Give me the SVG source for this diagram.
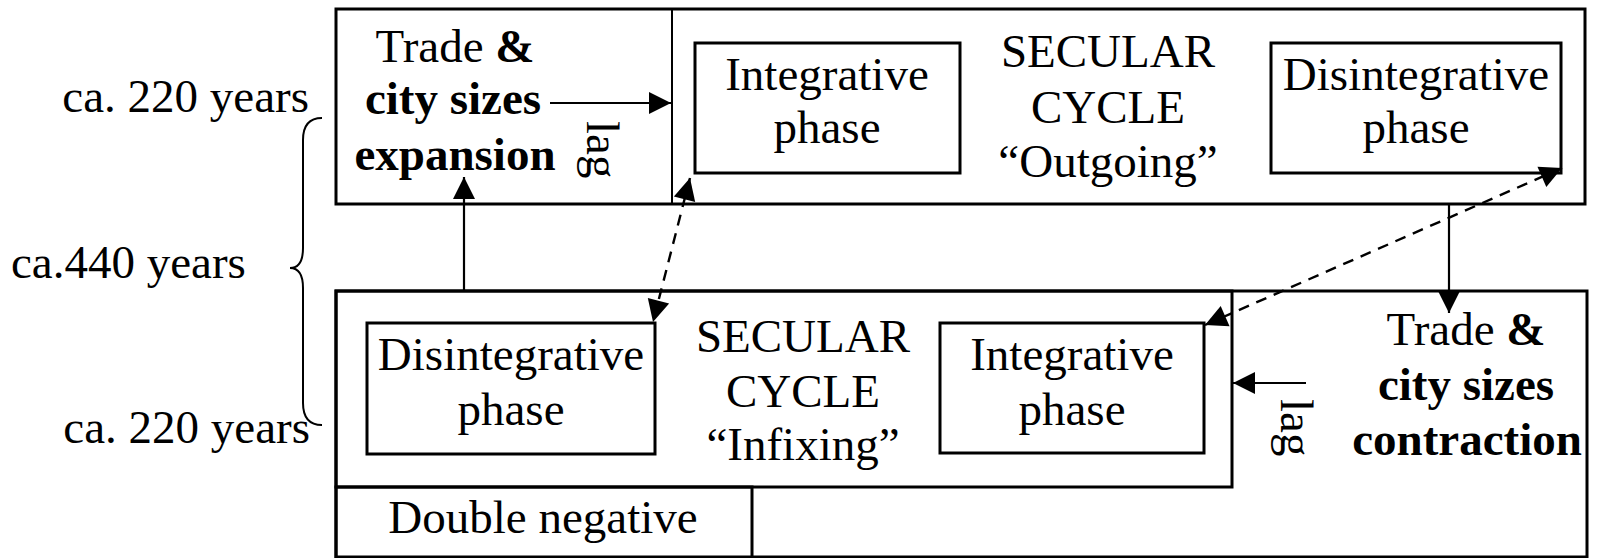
<svg xmlns="http://www.w3.org/2000/svg" width="1598" height="558" viewBox="0 0 1598 558">
  <style>
    .box { fill: none; stroke: #000; stroke-width: 3; }
    .thin { fill: none; stroke: #000; stroke-width: 2; }
    .t { font-family: "Liberation Serif", "Times New Roman", serif; font-size: 47px; fill: #000; }
    .c { text-anchor: middle; }
    .b { font-weight: bold; }
    .arrow { stroke: #000; stroke-width: 2.2; fill: none; marker-end: url(#ah); }
    .dash { stroke: #000; stroke-width: 2.4; fill: none; stroke-dasharray: 11 8; marker-start: url(#ah); marker-end: url(#ah); }
  </style>
  <defs>
    <marker id="ah" markerUnits="userSpaceOnUse" markerWidth="24" markerHeight="24" viewBox="0 0 24 24" refX="23" refY="12" orient="auto-start-reverse">
      <path d="M1,1 L23,12 L1,23 Z" fill="#000"/>
    </marker>
  </defs>
  <rect width="1598" height="558" fill="#fff"/>

  <g id="labels-left">
    <text class="t" x="309" y="112" text-anchor="end">ca. 220 years</text>
    <text class="t" x="11" y="278">ca.440 years</text>
    <text class="t" x="310" y="443" text-anchor="end">ca. 220 years</text>
    <path class="thin" d="M322,118 Q303,118 303,140 L303,248 Q303,268 290,268 Q303,268 303,288 L303,403 Q303,425 322,425"/>
  </g>

  <g id="top-cycle">
    <rect class="box" x="336" y="9" width="1249" height="195"/>
    <line class="thin" x1="672" y1="9" x2="672" y2="204"/>
  </g>

  <g id="trade-expansion">
    <text class="t c" x="455" y="62">Trade <tspan class="b">&amp;</tspan></text>
    <text class="t c b" x="453" y="114">city sizes</text>
    <text class="t c b" x="455" y="170">expansion</text>
    <text class="t" transform="translate(587,121) rotate(90)">lag</text>
  </g>

  <g id="top-integrative">
    <rect class="box" x="695" y="43" width="265" height="130"/>
    <text class="t c" x="827" y="90">Integrative</text>
    <text class="t c" x="827" y="143">phase</text>
  </g>

  <g id="top-title">
    <text class="t c" x="1108" y="67">SECULAR</text>
    <text class="t c" x="1108" y="123">CYCLE</text>
    <text class="t c" x="1108" y="177">“Outgoing”</text>
  </g>

  <g id="top-disintegrative">
    <rect class="box" x="1271" y="43" width="290" height="130"/>
    <text class="t c" x="1416" y="90">Disintegrative</text>
    <text class="t c" x="1416" y="143">phase</text>
  </g>

  <g id="bottom-outer">
    <rect class="box" x="336" y="291" width="1251" height="266"/>
  </g>

  <g id="bottom-cycle">
    <rect class="box" x="336" y="291" width="896" height="196"/>
    <text class="t c" x="803" y="352">SECULAR</text>
    <text class="t c" x="803" y="407">CYCLE</text>
    <text class="t c" x="803" y="460">“Infixing”</text>
  </g>

  <g id="bottom-disintegrative">
    <rect class="box" x="367" y="323" width="288" height="131"/>
    <text class="t c" x="511" y="370">Disintegrative</text>
    <text class="t c" x="511" y="425">phase</text>
  </g>

  <g id="bottom-integrative">
    <rect class="box" x="940" y="323" width="264" height="130"/>
    <text class="t c" x="1072" y="370">Integrative</text>
    <text class="t c" x="1072" y="425">phase</text>
  </g>

  <g id="trade-contraction">
    <text class="t c" x="1466" y="345">Trade <tspan class="b">&amp;</tspan></text>
    <text class="t c b" x="1466" y="400">city sizes</text>
    <text class="t c b" x="1467" y="455">contraction</text>
    <text class="t" transform="translate(1281,399) rotate(90)">lag</text>
  </g>

  <g id="double-negative">
    <rect class="box" x="336" y="487" width="416" height="72"/>
    <text class="t c" x="543" y="533">Double negative</text>
  </g>

  <g id="connectors">
    <line class="arrow" x1="550" y1="103" x2="671" y2="103"/>
    <line class="arrow" x1="464" y1="291" x2="464" y2="177"/>
    <line class="arrow" x1="1449" y1="204" x2="1449" y2="313"/>
    <line class="arrow" x1="1306" y1="383" x2="1233" y2="383"/>
    <line class="dash" x1="690" y1="178" x2="653" y2="322"/>
    <line class="dash" x1="1562" y1="168" x2="1205" y2="325"/>
  </g>
</svg>
